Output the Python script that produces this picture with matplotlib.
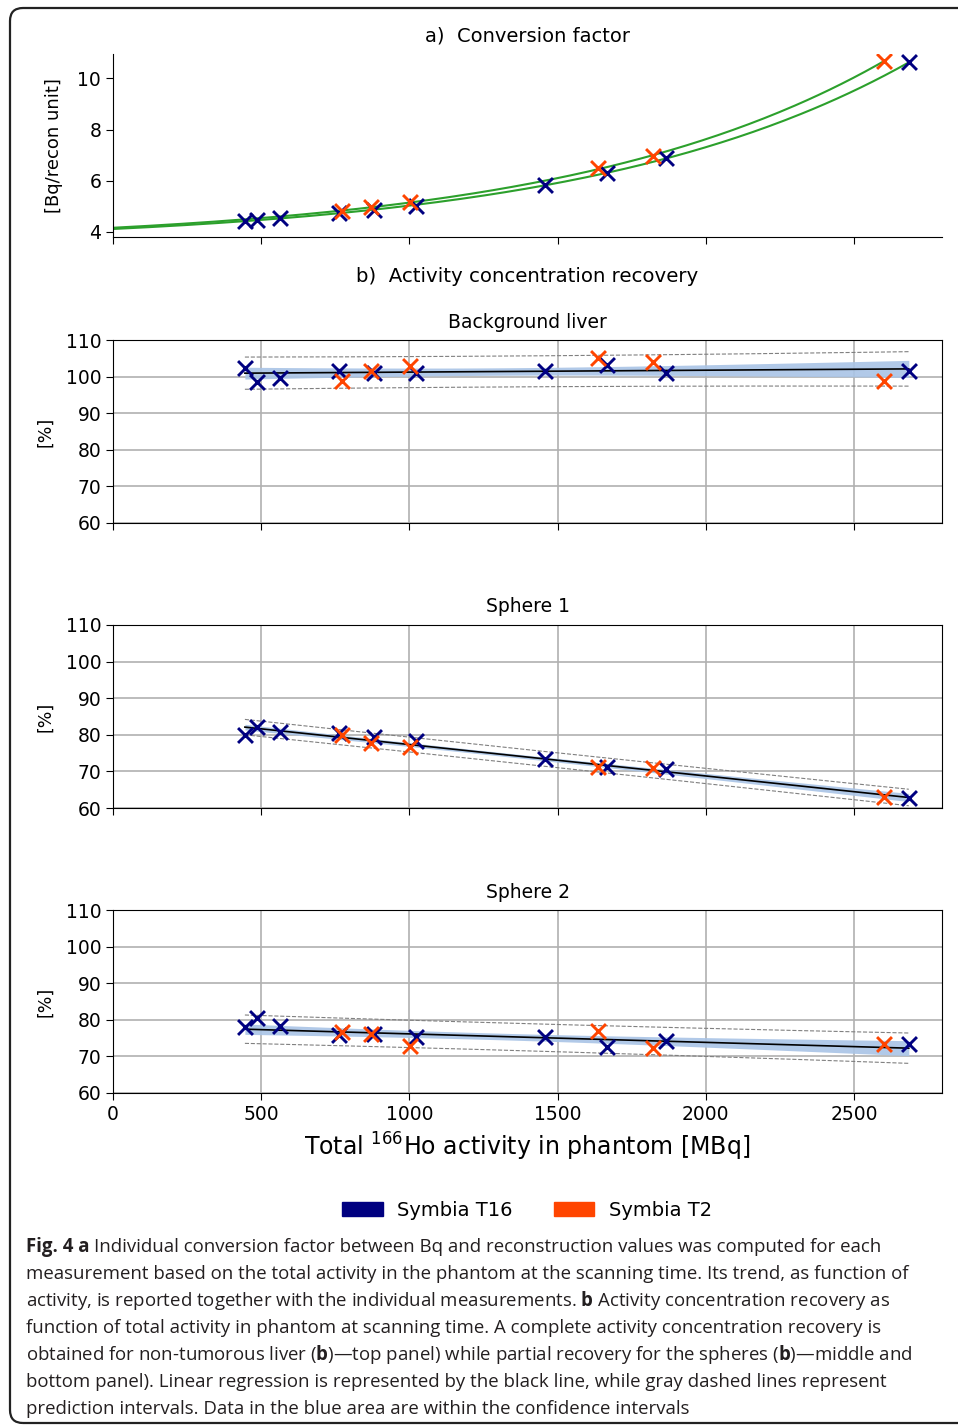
import numpy as np
import matplotlib
matplotlib.use('Agg')
import matplotlib.pyplot as plt
from matplotlib.patches import Patch, FancyBboxPatch
from matplotlib.transforms import IdentityTransform

plt.rcParams['font.family'] = ['DejaVu Sans']
plt.rcParams['mathtext.fontset'] = 'custom'
plt.rcParams['mathtext.rm'] = 'Open Sans'
plt.rcParams['mathtext.bf'] = 'Open Sans:bold'
plt.rcParams['mathtext.sf'] = 'DejaVu Sans'

# activity in phantom [MBq]
x_t16 = np.array([445, 486, 563, 764, 879, 1022, 1459, 1666, 1867, 2685])
x_t2 = np.array([774, 870, 1002, 1635, 1822, 2602])

# a) conversion factor [Bq/recon unit]
cf_t16 = np.array([4.44, 4.45, 4.54, 4.73, 4.85, 5.03, 5.83, 6.30, 6.89, 10.62])
cf_t2 = np.array([4.80, 4.98, 5.16, 6.49, 6.95, 10.68])

# b) recovery [%]
liver_t16 = np.array([102.3, 98.4, 99.6, 101.6, 100.9, 100.9, 101.6, 103.2, 101.1, 101.4])
liver_t2 = np.array([98.8, 101.4, 102.9, 105.0, 104.1, 98.8])
sph1_t16 = np.array([79.9, 82.0, 80.8, 80.4, 79.5, 78.4, 73.3, 71.3, 70.6, 62.6])
sph1_t2 = np.array([79.9, 77.7, 76.8, 71.3, 70.8, 63.1])
sph2_t16 = np.array([77.9, 80.5, 78.3, 75.8, 76.1, 75.4, 75.2, 72.6, 74.3, 73.4])
sph2_t2 = np.array([76.8, 76.1, 72.9, 77.0, 72.2, 73.4])

panels = [('Background liver', liver_t16, liver_t2),
          ('Sphere 1', sph1_t16, sph1_t2),
          ('Sphere 2', sph2_t16, sph2_t2)]

C16 = 'navy'
C2 = 'orangered'


def exp_fit(x, y):
    # y = c + a*exp(b*x), grid search on b
    best = None
    for b in np.linspace(2e-4, 3e-3, 2000):
        A = np.column_stack([np.exp(b * x), np.ones_like(x, dtype=float)])
        coef = np.linalg.lstsq(A, y, rcond=None)[0]
        err = np.sum((A @ coef - y) ** 2)
        if best is None or err < best[0]:
            best = (err, b, coef)
    _, b, (a, c) = best
    return lambda t: c + a * np.exp(b * t)


W, H = 958, 1426
fig = plt.figure(figsize=(W / 100, H / 100), dpi=100)

L = 113 / W
AW = (942 - 113) / W


def box(top, bottom):
    return [L, 1 - bottom / H, AW, (bottom - top) / H]


# ---- a) conversion factor
ax = fig.add_axes(box(54, 237))
for xs, ys in [(x_t16, cf_t16), (x_t2, cf_t2)]:
    f = exp_fit(xs, ys)
    tt = np.linspace(0, xs.max(), 200)
    ax.plot(tt, f(tt), color='tab:green', lw=1.5)
ax.scatter(x_t16, cf_t16, marker='x', s=115, color=C16, linewidths=2.1, zorder=3)
ax.scatter(x_t2, cf_t2, marker='x', s=115, color=C2, linewidths=2.1, zorder=3)
ax.set_xlim(0, 2797)
ax.set_ylim(3.8, 10.95)
ax.set_yticks([4, 6, 8, 10])
ax.set_xticks([0, 500, 1000, 1500, 2000, 2500])
ax.set_xticklabels([])
ax.spines['top'].set_visible(False)
ax.spines['right'].set_visible(False)
ax.tick_params(labelsize=13.5, length=5)
ax.set_ylabel('[Bq/recon unit]', fontsize=13)
ax.yaxis.set_label_coords(-0.060, 0.5)
ax.set_title('a)  Conversion factor', fontsize=14, pad=9)

fig.text(527 / W, 1 - 276 / H, 'b)  Activity concentration recovery',
         ha='center', va='center', fontsize=14.2)

# ---- b) recovery panels
tops = [340, 625, 910]
t_crit = 2.145  # t(0.975, df=14)
for i, (name, y16, y2) in enumerate(panels):
    ax = fig.add_axes(box(tops[i], tops[i] + 183))
    xs = np.concatenate([x_t16, x_t2]).astype(float)
    ys = np.concatenate([y16, y2])
    n = len(xs)
    slope, icpt = np.polyfit(xs, ys, 1)
    res = ys - (slope * xs + icpt)
    s = np.sqrt(np.sum(res ** 2) / (n - 2))
    tt = np.linspace(xs.min(), xs.max(), 200)
    yy = slope * tt + icpt
    lev = 1 / n + (tt - xs.mean()) ** 2 / np.sum((xs - xs.mean()) ** 2)
    ci = t_crit * s * np.sqrt(lev)
    pi = t_crit * s * np.sqrt(1 + lev)
    ax.fill_between(tt, yy - ci, yy + ci, color='#a9c4e6', alpha=0.9, lw=0, zorder=2)
    ax.plot(tt, yy, color='black', lw=1.2, zorder=2.5)
    ax.plot(tt, yy + pi, color='gray', ls='--', lw=0.8, zorder=2.5)
    ax.plot(tt, yy - pi, color='gray', ls='--', lw=0.8, zorder=2.5)
    ax.scatter(x_t16, y16, marker='x', s=115, color=C16, linewidths=2.1, zorder=3)
    ax.scatter(x_t2, y2, marker='x', s=115, color=C2, linewidths=2.1, zorder=3)
    ax.set_xlim(0, 2797)
    ax.set_ylim(60, 110)
    ax.set_yticks([60, 70, 80, 90, 100, 110])
    ax.set_xticks([0, 500, 1000, 1500, 2000, 2500])
    ax.grid(True, color='#b0b0b0', lw=1.2, zorder=1)
    ax.set_axisbelow(True)
    ax.tick_params(labelsize=13.5, length=5)
    ax.set_title(name, fontsize=13.5, pad=9)
    ax.set_ylabel('[%]', fontsize=12.5)
    ax.yaxis.set_label_coords(-0.071, 0.5)
    if i < 2:
        ax.set_xticklabels([])
    else:
        ax.set_xlabel(r'Total $^{\mathsf{166}}$Ho activity in phantom [MBq]', fontsize=17, labelpad=5)

handles = [Patch(color=C16, label='Symbia T16'), Patch(color=C2, label='Symbia T2')]
fig.legend(handles=handles, loc='center', bbox_to_anchor=(527 / W, 1 - 1210 / H), ncol=2,
           frameon=False, fontsize=14, handlelength=2.1, handleheight=0.75,
           handletextpad=0.75, columnspacing=2.1)

# ---- caption
cap = [
    'Individual conversion factor between Bq and reconstruction values was computed for each',
    'measurement based on the total activity in the phantom at the scanning time. Its trend, as function of',
    r'activity, is reported together with the individual measurements. $\bf{b}$ Activity concentration recovery as',
    'function of total activity in phantom at scanning time. A complete activity concentration recovery is',
    r'obtained for non-tumorous liver ($\bf{b}$)—top panel) while partial recovery for the spheres ($\bf{b}$)—middle and',
    'bottom panel). Linear regression is represented by the black line, while gray dashed lines represent',
    'prediction intervals. Data in the blue area are within the confidence intervals',
]
cap_kw = dict(ha='left', va='baseline', fontsize=13.45, family='Open Sans', color='#231f20')
renderer = fig.canvas.get_renderer()

# first line starts with bold "Fig. 4 a"
x0 = 26 / W
y0 = 1 - (1246 + 6) / H
lead = fig.text(x0, y0, 'Fig. 4 a', fontweight='bold', **cap_kw)
t1 = fig.text(0, 0, 'a a', **cap_kw)
t2 = fig.text(0, 0, 'aa', **cap_kw)
space = (t1.get_window_extent(renderer).width - t2.get_window_extent(renderer).width) / W
t1.remove()
t2.remove()
x_rest = x0 + lead.get_window_extent(renderer).width / W + space

for k, line in enumerate(cap):
    yb = 1246 + 27 * k + 6
    fig.text(x_rest if k == 0 else x0, 1 - yb / H, line, **cap_kw)

frame = FancyBboxPatch((10, H - 1423), 990, 1423 - 8,
                       boxstyle='round,pad=0,rounding_size=13',
                       transform=IdentityTransform(), fill=False,
                       ec='#222222', lw=1.6)
fig.add_artist(frame)

fig.savefig('out.png', dpi=100)
